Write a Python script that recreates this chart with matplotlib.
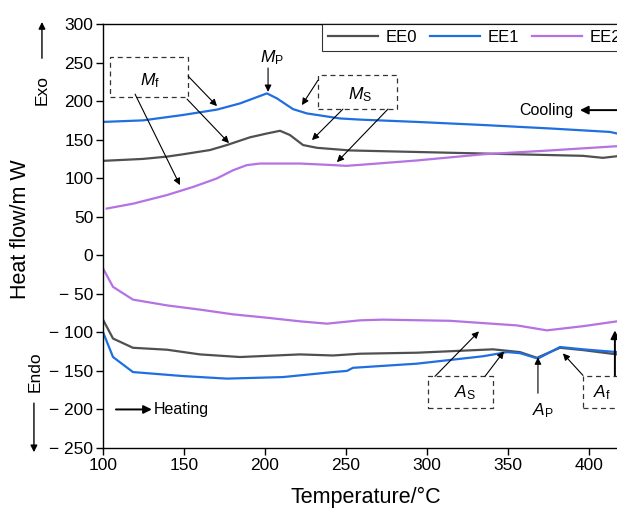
import matplotlib
matplotlib.use("Agg")
import matplotlib.pyplot as plt
from matplotlib.patches import Rectangle

plt.rcParams['font.family'] = ['Liberation Sans', 'DejaVu Sans']
plt.rcParams['mathtext.fontset'] = 'custom'
plt.rcParams['mathtext.rm'] = 'Liberation Sans'
plt.rcParams['mathtext.it'] = 'Liberation Sans:italic'

# DSC curves (temperature in C, heat flow in mW)
# cooling branch
ee0_cool_t = [100, 124.7, 139.5, 149.4, 166, 176.5, 190.7, 201.2, 209.3, 215.4, 223.5, 232.1, 252.5, 293.8, 334.6, 375.9, 396.3, 408.6, 417.3]
ee0_cool_y = [122.5, 125, 128, 131, 136.5, 143, 153, 158, 161.5, 156, 143, 139.4, 136, 134, 132, 130, 129, 126.4, 128.5]
ee1_cool_t = [100, 124.7, 149.4, 170.4, 184.6, 201.2, 207.4, 217.3, 225.9, 246.3, 258.6, 293.8, 334.6, 376, 413, 417.3]
ee1_cool_y = [173, 175, 182, 189, 197, 210, 203.5, 189.6, 184, 177.5, 176, 173, 169, 164.5, 160, 158]
ee2_cool_t = [102.3, 118.7, 139.3, 155.7, 170.2, 180.4, 188.7, 196.9, 221.6, 242, 250, 260, 293.8, 334.6, 375.9, 417.3]
ee2_cool_y = [60.6, 67, 78, 88.7, 99.6, 110.4, 116.9, 119, 119, 117, 116, 117.5, 123, 131, 136, 141.5]

# heating branch
ee0_heat_t = [100, 106.2, 118.5, 139.5, 159.9, 184.6, 221.6, 242, 258.6, 293.8, 340.7, 357.4, 367.9, 382.1, 396.3, 417.3]
ee0_heat_y = [-83.5, -108, -120, -122.5, -128.6, -132, -128.6, -130, -127.7, -126.4, -122, -125.6, -133, -120, -123, -128.6]
ee1_heat_t = [100, 106.2, 118.5, 149.4, 176.5, 211.1, 242, 250.6, 254.3, 293.8, 334.6, 349.4, 357.4, 368.5, 382.1, 396.3, 417.3]
ee1_heat_y = [-99.6, -132, -151.5, -156.7, -160, -158, -151.5, -150, -146, -140.6, -131, -125.6, -127, -134, -119, -122, -125.6]
ee2_heat_t = [100, 106.2, 118.5, 139.5, 159.9, 180.2, 201.2, 221.6, 238.3, 258.6, 272.8, 314.2, 355.6, 374, 396.3, 417.3]
ee2_heat_y = [-17, -41, -57.5, -65, -70.5, -76.6, -81, -85.7, -88.7, -84.4, -83.5, -85, -91, -97.4, -92, -85.7]

names = ['EE0', 'EE1', 'EE2']
colors = ['#505050', '#1f6fe0', '#b572e3']

xticks = [100, 150, 200, 250, 300, 350, 400]
yticks = [300, 250, 200, 150, 100, 50, 0, -50, -100, -150, -200, -250]

fig = plt.figure(figsize=(6.17, 5.11), dpi=100)
ax = fig.add_axes([0.1669, 0.1233, 0.8927, 0.8297])

cool = [(ee0_cool_t, ee0_cool_y), (ee1_cool_t, ee1_cool_y), (ee2_cool_t, ee2_cool_y)]
heat = [(ee0_heat_t, ee0_heat_y), (ee1_heat_t, ee1_heat_y), (ee2_heat_t, ee2_heat_y)]
handles = []
for (ct, cy), (ht, hy), c, n in zip(cool, heat, colors, names):
    h, = ax.plot(ct, cy, color=c, lw=1.6, label=n, solid_joinstyle='round')
    ax.plot(ht, hy, color=c, lw=1.6, solid_joinstyle='round')
    handles.append(h)

ax.set_xlim(100, 440)
ax.set_ylim(-250, 300)
ax.set_xticks(xticks)
ax.set_xticklabels([str(v) for v in xticks])
ax.set_yticks(yticks)
ax.set_yticklabels([('\u2212 %d' % -v) if v < 0 else str(v) for v in yticks])
ax.tick_params(direction='out', length=5, width=1, labelsize=12.5, pad=2)
ax.spines['right'].set_visible(False)
for s in ['left', 'bottom', 'top']:
    ax.spines[s].set_linewidth(1.0)

fig.text(0.593, 0.026, 'Temperature/\u00b0C', fontsize=15.5, ha='center', va='center')
fig.text(0.033, 0.551, 'Heat flow/m W', rotation=90, fontsize=15.5, ha='center', va='center')

# Exo / Endo markers
big = dict(arrowstyle='-|>', color='black', lw=1, mutation_scale=10, shrinkA=0, shrinkB=0)
fig.text(0.068, 0.824, 'Exo', rotation=90, fontsize=12.5, ha='center', va='center')
ax.annotate('', xy=(0.068, 0.957), xytext=(0.068, 0.886), xycoords='figure fraction', arrowprops=big)
fig.text(0.057, 0.272, 'Endo', rotation=90, fontsize=12.5, ha='center', va='center')
ax.annotate('', xy=(0.055, 0.115), xytext=(0.055, 0.211), xycoords='figure fraction', arrowprops=big)

leg = ax.legend(handles=handles, ncol=3, loc='upper left', bbox_to_anchor=(0.3976, 1.0),
                fontsize=12, frameon=True, fancybox=False, borderaxespad=0,
                handlelength=3.0, handletextpad=0.45, columnspacing=0.8, borderpad=0.35)
leg.get_frame().set_edgecolor('black')
leg.get_frame().set_linewidth(0.8)

arrow = dict(arrowstyle='-|>', color='black', lw=0.8, mutation_scale=10, shrinkA=0, shrinkB=0)
thick = dict(arrowstyle='-|>', color='black', lw=1.4, mutation_scale=12, shrinkA=0, shrinkB=0)
box = dict(fill=False, ls=(0, (4, 3)), lw=0.9, ec='#333333')

# M_f
ax.add_patch(Rectangle((104.3, 205.2), 48.2, 51.9, **box))
ax.text(129, 227, r'$M_\mathrm{f}$', fontsize=12.5, ha='center', va='center')
ax.annotate('', xy=(170.4, 193.5), xytext=(152.5, 232.5), arrowprops=arrow)
ax.annotate('', xy=(177.8, 145.5), xytext=(151.9, 202.6), arrowprops=arrow)
ax.annotate('', xy=(147.5, 91), xytext=(119.8, 209), arrowprops=arrow)

# M_P
ax.text(204.3, 256, r'$M_\mathrm{P}$', fontsize=12.5, ha='center', va='center')
ax.annotate('', xy=(201.9, 212), xytext=(201.9, 243), arrowprops=arrow)

# M_S
ax.add_patch(Rectangle((232.7, 189.6), 48.8, 44.2, **box))
ax.text(258.6, 207.8, r'$M_\mathrm{S}$', fontsize=12.5, ha='center', va='center')
ax.annotate('', xy=(222.8, 194.8), xytext=(232.7, 227), arrowprops=arrow)
ax.annotate('', xy=(229, 149.4), xytext=(248.1, 189.6), arrowprops=arrow)
ax.annotate('', xy=(244.4, 120.8), xytext=(275.9, 189.6), arrowprops=arrow)

# Cooling / Heating
ax.text(390.7, 188.3, 'Cooling', fontsize=11.5, ha='right', va='center')
ax.annotate('', xy=(394.4, 188.3), xytext=(420, 188.3), arrowprops=thick)
ax.annotate('', xy=(130.2, -200), xytext=(108, -200), arrowprops=thick)
ax.text(131.5, -200, 'Heating', fontsize=11.5, ha='left', va='center')

# A_S
ax.add_patch(Rectangle((300.6, -198.7), 40.1, 41.6, **box))
ax.text(323.5, -178, r'$A_\mathrm{S}$', fontsize=12.5, ha='center', va='center')
ax.annotate('', xy=(332.1, -98.7), xytext=(304.9, -157.1), arrowprops=arrow)
ax.annotate('', xy=(347.5, -124.7), xytext=(335.8, -157.1), arrowprops=arrow)

# A_P
ax.annotate('', xy=(368.5, -132.5), xytext=(368.5, -179), arrowprops=arrow)
ax.text(371.6, -201, r'$A_\mathrm{P}$', fontsize=12.5, ha='center', va='center')

# A_f
ax.add_patch(Rectangle((396.3, -198.7), 40, 41.6, **box))
ax.text(408, -178, r'$A_\mathrm{f}$', fontsize=12.5, ha='center', va='center')
ax.annotate('', xy=(383.9, -127.3), xytext=(396.3, -155.8), arrowprops=arrow)
ax.annotate('', xy=(416, -97.4), xytext=(416, -156), arrowprops=thick)

fig.savefig('out.png', dpi=100)
